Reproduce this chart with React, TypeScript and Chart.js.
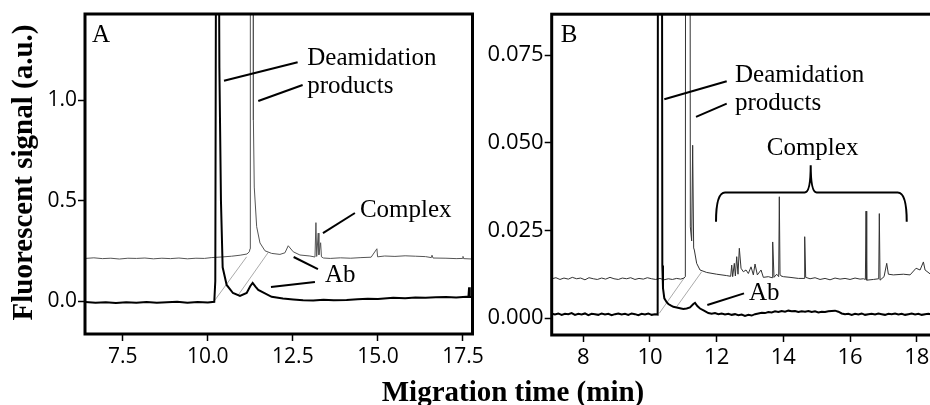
import React, { useEffect, useRef } from "react";
import { Chart, registerables } from "chart.js";

Chart.register(...registerables);

// ---------------- Panel A data ----------------
const aUpperTime = [6.40, 6.65, 6.90, 7.15, 7.40, 7.65, 7.90, 8.15, 8.40, 8.65, 8.90, 9.15, 9.40, 9.65, 9.90, 10.10, 10.40, 10.70, 10.95, 11.15, 11.22, 11.24, 11.25, 11.33, 11.34, 11.365, 11.436, 11.533, 11.68, 11.876, 12.12, 12.267, 12.364, 12.511, 12.708, 13.0, 13.15, 13.178, 13.20, 13.246, 13.265, 13.316, 13.34, 13.40, 13.6, 13.9, 14.2, 14.5, 14.8, 14.97, 14.99, 15.2, 15.5, 15.8, 16.1, 16.4, 16.57, 16.59, 16.62, 17.0, 17.3, 17.48, 17.5, 17.52, 17.78];
const aUpperSignal = [0.212, 0.215, 0.211, 0.213, 0.209, 0.213, 0.212, 0.214, 0.210, 0.213, 0.211, 0.214, 0.210, 0.213, 0.212, 0.216, 0.219, 0.223, 0.228, 0.234, 0.245, 0.26, 3.0, 3.0, 0.9, 0.567, 0.37, 0.289, 0.25, 0.237, 0.232, 0.24, 0.275, 0.245, 0.229, 0.224, 0.219, 0.39, 0.222, 0.338, 0.23, 0.29, 0.22, 0.214, 0.212, 0.215, 0.213, 0.216, 0.218, 0.26, 0.22, 0.224, 0.222, 0.225, 0.223, 0.221, 0.216, 0.228, 0.214, 0.213, 0.211, 0.212, 0.222, 0.211, 0.209];

const aLowerTime = [6.40, 6.70, 7.00, 7.30, 7.60, 7.90, 8.20, 8.50, 8.80, 9.10, 9.40, 9.70, 10.00, 10.19, 10.22, 10.25, 10.31, 10.34, 10.386, 10.436, 10.554, 10.739, 10.945, 11.142, 11.25, 11.318, 11.40, 11.483, 11.68, 11.876, 12.208, 12.51, 12.8, 13.1, 13.4, 13.7, 14.08, 14.4, 14.7, 15.0, 15.45, 15.8, 16.1, 16.4, 16.7, 17.0, 17.3, 17.6, 17.66, 17.68, 17.70, 17.78];
const aLowerSignal = [-0.005, -0.008, -0.006, -0.010, -0.006, -0.008, -0.005, -0.009, -0.006, -0.004, -0.008, -0.005, -0.007, -0.004, 0.10, 2.5, 2.5, 1.16, 0.50, 0.168, 0.080, 0.040, 0.026, 0.040, 0.075, 0.090, 0.072, 0.055, 0.038, 0.021, 0.013, 0.008, 0.004, 0.003, 0.006, 0.004, 0.005, 0.009, 0.011, 0.010, 0.016, 0.014, 0.018, 0.016, 0.019, 0.020, 0.018, 0.021, 0.020, 0.068, 0.021, 0.020];

// guide lines linking the two traces (time, signal)
const aGuideTime = [[10.21, 11.141], [10.895, 11.776]];
const aGuideSignal = [[0.005, 0.220], [0.030, 0.242]];

const aXTicks = [7.5, 10.0, 12.5, 15.0, 17.5];
const aYTicks = [0.0, 0.5, 1.0];

// ---------------- Panel B data ----------------
const bUpperTime = [7.06, 7.18, 7.30, 7.42, 7.55, 7.67, 7.80, 7.92, 8.05, 8.17, 8.30, 8.42, 8.55, 8.67, 8.80, 8.92, 9.05, 9.17, 9.30, 9.42, 9.55, 9.67, 9.80, 9.92, 10.05, 10.17, 10.30, 10.42, 10.55, 10.67, 10.80, 10.92, 11.02, 11.06, 11.08, 11.19, 11.21, 11.25, 11.28, 11.31, 11.33, 11.40, 11.50, 11.70, 12.00, 12.30, 12.42, 12.451, 12.48, 12.529, 12.56, 12.601, 12.64, 12.679, 12.73, 12.80, 12.88, 12.95, 13.03, 13.10, 13.15, 13.22, 13.33, 13.40, 13.55, 13.66, 13.68, 13.72, 13.80, 13.86, 13.879, 13.90, 13.93, 14.00, 14.20, 14.45, 14.62, 14.64, 14.67, 14.80, 14.95, 15.10, 15.25, 15.40, 15.55, 15.70, 15.85, 16.00, 16.15, 16.30, 16.40, 16.46, 16.479, 16.50, 16.70, 16.86, 16.878, 16.90, 17.02, 17.10, 17.15, 17.30, 17.60, 17.80, 17.98, 18.10, 18.20, 18.25, 18.40, 18.55];
const bUpperSignal = [0.0112, 0.0115, 0.0110, 0.0114, 0.0111, 0.0116, 0.0112, 0.0114, 0.0109, 0.0115, 0.0112, 0.0110, 0.0114, 0.0111, 0.0116, 0.0112, 0.0110, 0.0114, 0.0112, 0.0115, 0.0110, 0.0113, 0.0111, 0.0115, 0.0112, 0.0110, 0.0113, 0.0109, 0.0112, 0.0110, 0.0113, 0.0111, 0.0114, 0.0118, 0.30, 0.30, 0.026, 0.022, 0.0493, 0.020, 0.0194, 0.0156, 0.0137, 0.0130, 0.0125, 0.0121, 0.0119, 0.0151, 0.0118, 0.0156, 0.0120, 0.0175, 0.0125, 0.0199, 0.0142, 0.0132, 0.0137, 0.0127, 0.0146, 0.0123, 0.0154, 0.0123, 0.0137, 0.0116, 0.0118, 0.0115, 0.0217, 0.0116, 0.0125, 0.0118, 0.0346, 0.0125, 0.0120, 0.0118, 0.0116, 0.0113, 0.0113, 0.0232, 0.0116, 0.0112, 0.0115, 0.0110, 0.0113, 0.0109, 0.0114, 0.0111, 0.0113, 0.0110, 0.0114, 0.0111, 0.0112, 0.0110, 0.0305, 0.0108, 0.0110, 0.0112, 0.0298, 0.0108, 0.0118, 0.0156, 0.0125, 0.0123, 0.0125, 0.0123, 0.0142, 0.0137, 0.0160, 0.0137, 0.0126, 0.0124];

const bLowerTime = [7.06, 7.15, 7.25, 7.35, 7.45, 7.55, 7.65, 7.75, 7.85, 7.95, 8.05, 8.15, 8.25, 8.35, 8.45, 8.55, 8.65, 8.75, 8.85, 8.95, 9.05, 9.15, 9.25, 9.35, 9.45, 9.55, 9.65, 9.75, 9.85, 9.95, 10.05, 10.15, 10.23, 10.25, 10.34, 10.37, 10.39, 10.43, 10.50, 10.55, 10.62, 10.70, 10.80, 10.90, 11.00, 11.10, 11.20, 11.30, 11.35, 11.42, 11.50, 11.62, 11.75, 11.85, 11.95, 12.05, 12.15, 12.25, 12.35, 12.45, 12.55, 12.65, 12.75, 12.85, 12.95, 13.05, 13.15, 13.25, 13.35, 13.45, 13.55, 13.65, 13.75, 13.85, 13.95, 14.05, 14.15, 14.25, 14.35, 14.45, 14.55, 14.65, 14.75, 14.85, 14.95, 15.05, 15.15, 15.25, 15.35, 15.45, 15.55, 15.65, 15.75, 15.85, 15.95, 16.05, 16.15, 16.25, 16.35, 16.45, 16.55, 16.65, 16.75, 16.85, 16.95, 17.05, 17.15, 17.25, 17.35, 17.45, 17.55, 17.65, 17.75, 17.85, 17.95, 18.05, 18.15, 18.25, 18.35, 18.45, 18.55];
const bLowerSignal = [0.0012, 0.0010, 0.0013, 0.0009, 0.0012, 0.0011, 0.0014, 0.0009, 0.0012, 0.0010, 0.0013, 0.0008, 0.0012, 0.0011, 0.0009, 0.0013, 0.0010, 0.0012, 0.0008, 0.0011, 0.0013, 0.0010, 0.0012, 0.0009, 0.0013, 0.0011, 0.0008, 0.0012, 0.0010, 0.0013, 0.0009, 0.0011, 0.0010, 0.30, 0.30, 0.015, 0.0085, 0.0056, 0.0045, 0.0040, 0.0036, 0.0032, 0.0030, 0.0028, 0.0026, 0.0027, 0.0030, 0.0040, 0.0043, 0.0034, 0.0027, 0.0021, 0.0014, 0.0012, 0.0014, 0.0011, 0.0013, 0.0010, 0.0012, 0.0009, 0.0011, 0.0008, 0.0010, 0.0006, 0.0009, 0.0007, 0.0011, 0.0013, 0.0015, 0.0014, 0.0017, 0.0016, 0.0019, 0.0017, 0.0020, 0.0018, 0.0021, 0.0019, 0.0020, 0.0017, 0.0019, 0.0018, 0.0020, 0.0017, 0.0019, 0.0016, 0.0018, 0.0017, 0.0019, 0.0020, 0.0021, 0.0018, 0.0013, 0.0011, 0.0012, 0.0009, 0.0012, 0.0010, 0.0013, 0.0009, 0.0011, 0.0012, 0.0010, 0.0013, 0.0011, 0.0009, 0.0012, 0.0011, 0.0013, 0.0010, 0.0012, 0.0009, 0.0011, 0.0013, 0.0010, 0.0012, 0.0009, 0.0011, 0.0012, 0.0010, 0.0011];

const bGuideTime = [[10.279, 11.05], [10.801, 11.551]];
const bGuideSignal = [[0.00134, 0.01177], [0.00322, 0.0132]];

const bXTicks = [8, 10, 12, 14, 16, 18];
const bYTicks = [0.0, 0.025, 0.05, 0.075];

// ---------------- Annotations (data coordinates) ----------------
const aLabelText = ["A", "Deamidation", "products", "Complex", "Ab"];
const aLabelTime = [6.596, 12.923, 12.923, 14.471, 13.443];
const aLabelSignal = [1.289, 1.174, 1.036, 0.419, 0.096];
const aPointerTime = [[10.475, 12.64], [11.483, 12.787], [13.384, 14.324], [12.523, 13.237], [11.856, 13.149]];
const aPointerSignal = [[1.096, 1.188], [0.995, 1.075], [0.338, 0.438], [0.219, 0.159], [0.070, 0.095]];

const bLabelText = ["B", "Deamidation", "products", "Complex", "Ab"];
const bLabelTime = [7.322, 12.55, 12.55, 13.501, 12.97];
const bLabelSignal = [0.0787, 0.06736, 0.05949, 0.04666, 0.00513];
const bPointerTime = [[10.429, 12.301], [11.38, 12.301], [11.719, 12.82]];
const bPointerSignal = [[0.06243, 0.06756], [0.05738, 0.0612], [0.0037, 0.00704]];
const bBraceTime = [11.98, 14.82, 17.70];
const bBraceSignal = [0.02745, 0.03583, 0.04361];

const pts = (xs: number[], ys: number[]) => xs.map((x, i) => ({ x, y: ys[i] }));

function decorPlugin(p: any) {
  return {
    id: "decor",
    afterDatasetsDraw(chart: any) {
      const { ctx, chartArea: ca } = chart;
      const sx = chart.scales.x;
      const sy = chart.scales.y;
      const X = (v: number) => sx.getPixelForValue(v);
      const Y = (v: number) => sy.getPixelForValue(v);
      ctx.save();
      ctx.strokeStyle = "#000";
      ctx.lineWidth = 3;
      ctx.strokeRect(ca.left, ca.top, ca.right - ca.left, ca.bottom - ca.top);
      ctx.lineWidth = 2;
      p.pointerTime.forEach((tt: number[], i: number) => {
        ctx.beginPath();
        ctx.moveTo(X(tt[0]), Y(p.pointerSignal[i][0]));
        ctx.lineTo(X(tt[1]), Y(p.pointerSignal[i][1]));
        ctx.stroke();
      });
      if (p.braceTime) {
        const L = X(p.braceTime[0]);
        const M = X(p.braceTime[1]);
        const R = X(p.braceTime[2]);
        const bot = Y(p.braceSignal[0]);
        const h = Y(p.braceSignal[1]);
        const tip = Y(p.braceSignal[2]);
        ctx.beginPath();
        ctx.moveTo(L, bot);
        ctx.quadraticCurveTo(L, h, L + 9, h);
        ctx.lineTo(M - 6, h);
        ctx.quadraticCurveTo(M, h, M, tip);
        ctx.quadraticCurveTo(M, h, M + 6, h);
        ctx.lineTo(R - 9, h);
        ctx.quadraticCurveTo(R, h, R, bot);
        ctx.stroke();
      }
      ctx.fillStyle = "#000";
      ctx.font = '25px "Liberation Serif"';
      ctx.textAlign = "left";
      ctx.textBaseline = "alphabetic";
      p.labelText.forEach((t: string, i: number) => {
        ctx.fillText(t, X(p.labelTime[i]), Y(p.labelSignal[i]));
      });
      ctx.restore();
    },
  };
}

const titlePlugin = {
  id: "titles",
  afterDraw(chart: any) {
    const { ctx } = chart;
    ctx.save();
    ctx.fillStyle = "#000";
    ctx.font = 'bold 29px "Liberation Serif"';
    ctx.textAlign = "center";
    ctx.textBaseline = "alphabetic";
    ctx.fillText("Migration time (min)", 513, 401);
    ctx.translate(31.7, 172.5);
    ctx.rotate(-Math.PI / 2);
    ctx.fillText("Fluorescent signal (a.u.)", 0, 0);
    ctx.restore();
  },
};

function makeConfig(o: any) {
  const tickFont = { family: "Open Sans", size: o.fontSize };
  const grid = { drawOnChartArea: false, drawTicks: true, tickLength: 7, tickWidth: 1.5, tickColor: "#000" };
  return {
    type: "scatter",
    data: {
      datasets: [
        { data: pts(o.lowerTime, o.lowerSignal), showLine: true, borderColor: "#000", borderWidth: 2, pointRadius: 0, tension: 0, clip: 1 },
        { data: pts(o.upperTime, o.upperSignal), showLine: true, borderColor: o.upperColor, borderWidth: 1, pointRadius: 0, tension: 0, clip: 1 },
        ...o.guideTime.map((tt: number[], i: number) => ({
          data: pts(tt, o.guideSignal[i]), showLine: true, borderColor: "#aaa", borderWidth: 1, pointRadius: 0, clip: 1,
        })),
      ],
    },
    options: {
      responsive: false,
      animation: false,
      devicePixelRatio: 1,
      events: [],
      layout: { padding: o.padding },
      plugins: { legend: { display: false }, tooltip: { enabled: false } },
      scales: {
        x: {
          type: "linear",
          min: o.xMin,
          max: o.xMax,
          afterFit: (s: any) => { s.height = o.xHeight; },
          afterBuildTicks: (s: any) => { s.ticks = o.xTicks.map((v: number) => ({ value: v })); },
          ticks: { callback: o.xFmt, font: tickFont, color: "#000", padding: 3, maxRotation: 0, autoSkip: false },
          grid,
          border: { display: false },
        },
        y: {
          type: "linear",
          min: o.yMin,
          max: o.yMax,
          afterFit: (s: any) => { s.width = o.yWidth; },
          afterBuildTicks: (s: any) => { s.ticks = o.yTicks.map((v: number) => ({ value: v })); },
          ticks: { callback: o.yFmt, font: tickFont, color: "#000", padding: 1, autoSkip: false },
          grid,
          border: { display: false },
        },
      },
    },
    plugins: o.plugins,
  };
}

export default function App() {
  const refA = useRef<HTMLCanvasElement>(null);
  const refB = useRef<HTMLCanvasElement>(null);

  useEffect(() => {
    const cfgA = makeConfig({
      lowerTime: aLowerTime, lowerSignal: aLowerSignal,
      upperTime: aUpperTime, upperSignal: aUpperSignal, upperColor: "#555",
      guideTime: aGuideTime, guideSignal: aGuideSignal,
      xMin: 6.39, xMax: 17.78, yMin: -0.164, yMax: 1.428,
      xTicks: aXTicks, yTicks: aYTicks,
      xFmt: (v: any) => Number(v).toFixed(1), yFmt: (v: any) => Number(v).toFixed(1),
      fontSize: 21,
      padding: { left: 0, top: 14, right: 930 - 472.5, bottom: 0 },
      xHeight: 71, yWidth: 85,
      plugins: [decorPlugin({ labelText: aLabelText, labelTime: aLabelTime, labelSignal: aLabelSignal, pointerTime: aPointerTime, pointerSignal: aPointerSignal }), titlePlugin],
    });
    const cfgB = makeConfig({
      lowerTime: bLowerTime, lowerSignal: bLowerSignal,
      upperTime: bUpperTime, upperSignal: bUpperSignal, upperColor: "#333",
      guideTime: bGuideTime, guideSignal: bGuideSignal,
      xMin: 7.052, xMax: 18.5, yMin: -0.00485, yMax: 0.0867,
      xTicks: bXTicks, yTicks: bYTicks,
      xFmt: (v: any) => String(Math.round(Number(v))), yFmt: (v: any) => Number(v).toFixed(3),
      fontSize: 22,
      padding: { left: 0, top: 14, right: 480 - 453.4, bottom: 0 },
      xHeight: 70, yWidth: 71.7,
      plugins: [decorPlugin({ labelText: bLabelText, labelTime: bLabelTime, labelSignal: bLabelSignal, pointerTime: bPointerTime, pointerSignal: bPointerSignal, braceTime: bBraceTime, braceSignal: bBraceSignal })],
    });
    const a = new Chart(refA.current as HTMLCanvasElement, cfgA as any);
    const b = new Chart(refB.current as HTMLCanvasElement, cfgB as any);
    return () => { a.destroy(); b.destroy(); };
  }, []);

  return (
    <div style={{ position: "absolute", left: 0, top: 0, width: 930, height: 405, overflow: "hidden", background: "#fff" }}>
      <canvas ref={refA} width={930} height={405} style={{ position: "absolute", left: 0, top: 0 }} />
      <canvas ref={refB} width={480} height={405} style={{ position: "absolute", left: 480, top: 0 }} />
    </div>
  );
}
